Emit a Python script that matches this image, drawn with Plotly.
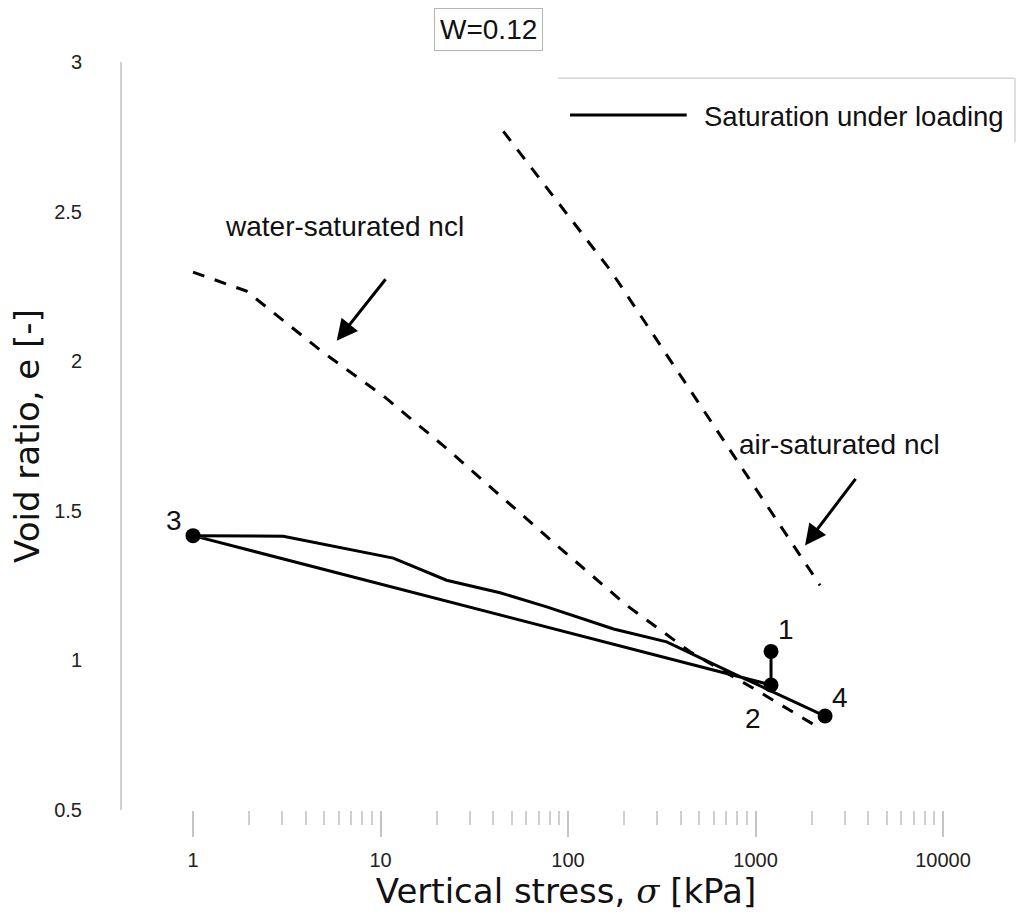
import math
import plotly.graph_objects as go

# Stress path: collapse on wetting (1->2), unloading (2->3), reloading (3->4)
path_stress = [1210, 1210, 1, 3.03, 11.7, 22.5, 43.4, 77, 175, 336, 794, 2350]
path_e = [1.03, 0.918, 1.417, 1.415, 1.342, 1.268, 1.226, 1.179, 1.105, 1.062, 0.951, 0.814]

# Numbered states along the path
point_labels = ["1", "2", "3", "4"]
point_stress = [1210, 1210, 1, 2350]
point_e = [1.03, 0.918, 1.417, 0.814]

# Normal compression lines
water_stress = [1, 1.93, 4.95, 10.35, 21.6, 43.4, 85.2, 205.6, 447.5, 973, 2208]
water_e = [2.298, 2.234, 2.029, 1.884, 1.718, 1.551, 1.39, 1.184, 1.029, 0.907, 0.773]
air_stress = [45.2, 170, 2208]
air_e = [2.768, 2.30, 1.251]

# Axis ticks
x_ticks = [1, 10, 100, 1000, 10000]
x_tick_text = ["1", "10", "100", "1000", "10000"]
x_minor = [m * 10 ** d for d in range(0, 4) for m in range(2, 10)]
y_ticks = [0.5, 1, 1.5, 2, 2.5, 3]
y_tick_text = ["0.5", "1", "1.5", "2", "2.5", "3"]

# Pointer arrows for the line captions: (tail stress, tail e, head stress, head e)
water_arrow = (10.8, 2.279, 5.84, 2.068)
air_arrow = (3465, 1.612, 1837, 1.384)

SANS = "Liberation Sans, Arial, sans-serif"
TITLE_FONT = "DejaVu Sans, Verdana, sans-serif"

fig = go.Figure()

fig.add_trace(go.Scatter(
    x=water_stress, y=water_e, mode="lines",
    line=dict(color="black", width=3, dash="12px,11px"),
    showlegend=False, hoverinfo="skip",
))
fig.add_trace(go.Scatter(
    x=air_stress, y=air_e, mode="lines",
    line=dict(color="black", width=3, dash="12px,11px"),
    showlegend=False, hoverinfo="skip",
))
fig.add_trace(go.Scatter(
    x=path_stress, y=path_e, mode="lines",
    line=dict(color="black", width=3),
    name="Saturation under loading", showlegend=False,
))
fig.add_trace(go.Scatter(
    x=point_stress, y=point_e, mode="markers",
    marker=dict(color="black", size=15),
    showlegend=False,
))

# State numbers next to each marker
label_shift = {"1": (15, 22), "2": (-18, -34), "3": (-19, 15), "4": (15, 19)}
for lab, s, e in zip(point_labels, point_stress, point_e):
    dx, dy = label_shift[lab]
    fig.add_annotation(
        x=math.log10(s), y=e, xref="x", yref="y", text=lab, showarrow=False,
        xshift=dx, yshift=dy, font=dict(family=SANS, size=28, color="#111"),
    )

# Captions and arrows for the compression lines
fig.add_annotation(
    x=0.158, y=2.451, xref="x", yref="y", text="water-saturated ncl",
    showarrow=False, xanchor="left", yanchor="middle",
    font=dict(family=SANS, size=28, color="#111"),
)
fig.add_annotation(
    x=2.8997, y=1.723, xref="x", yref="y", text="air-saturated ncl",
    showarrow=False, xanchor="left", yanchor="middle",
    font=dict(family=SANS, size=28, color="#111"),
)
for ts, te, hs, he in (water_arrow, air_arrow):
    fig.add_annotation(
        x=math.log10(hs), y=he, ax=math.log10(ts), ay=te,
        xref="x", yref="y", axref="x", ayref="y", text="",
        showarrow=True, arrowhead=2, arrowsize=1.4, arrowwidth=3,
        arrowcolor="black", standoff=0,
    )

# Water content box
fig.add_annotation(
    x=0.4127, y=1.0428, xref="paper", yref="paper", text="W=0.12",
    showarrow=False, xanchor="center", yanchor="middle",
    font=dict(family=SANS, size=28, color="#111"),
    bordercolor="#b4b4b4", borderwidth=1, borderpad=5, bgcolor="white",
)

# Key for the solid path
fig.add_shape(type="line", xref="paper", yref="paper",
              x0=0.4913, x1=1.0056, y0=0.9782, y1=0.9782,
              line=dict(color="#d4d4d4", width=1.5))
fig.add_shape(type="line", xref="paper", yref="paper",
              x0=1.0056, x1=1.0056, y0=0.9782, y1=0.893,
              line=dict(color="#d4d4d4", width=1.5))
fig.add_shape(type="line", xref="paper", yref="paper",
              x0=0.5045, x1=0.6359, y0=0.9291, y1=0.9291,
              line=dict(color="black", width=3))
fig.add_annotation(
    x=0.6528, y=0.9269, xref="paper", yref="paper",
    text="Saturation under loading", showarrow=False,
    xanchor="left", yanchor="middle",
    font=dict(family=SANS, size=27.5, color="#111"),
)

fig.update_xaxes(
    type="log", range=[-0.3787, 4.3573],
    tickmode="array", tickvals=x_ticks, ticktext=x_tick_text,
    ticks="outside", ticklen=26, tickwidth=1.5, tickcolor="#c4c4c4",
    minor=dict(tickmode="array", tickvals=x_minor, ticks="outside",
               ticklen=14, tickwidth=1.5, tickcolor="#cfcfcf", showgrid=False),
    showline=False, showgrid=False, zeroline=False,
    tickfont=dict(family=SANS, size=20, color="#222"),
    ticklabelstandoff=6,
    title=dict(
        text="Vertical stress, <span style=\"font-family:'DejaVu Serif',serif\"><i>σ</i></span> [kPa]",
        font=dict(family=TITLE_FONT, size=34, color="#111"), standoff=8),
)
fig.update_yaxes(
    range=[0.5, 3], tickmode="array", tickvals=y_ticks, ticktext=y_tick_text,
    ticks="", showline=True, linecolor="#d0d0d0", linewidth=2,
    showgrid=False, zeroline=False,
    tickfont=dict(family=SANS, size=20, color="#222"),
    ticklabelstandoff=34,
    title=dict(text="Void ratio, e [-]",
               font=dict(family=TITLE_FONT, size=34, color="#111"), standoff=4),
)

fig.update_layout(
    width=1016, height=923,
    margin=dict(l=122, r=6, t=62, b=113, autoexpand=False),
    paper_bgcolor="white", plot_bgcolor="white",
    showlegend=False,
)

fig.write_html("out.html")
